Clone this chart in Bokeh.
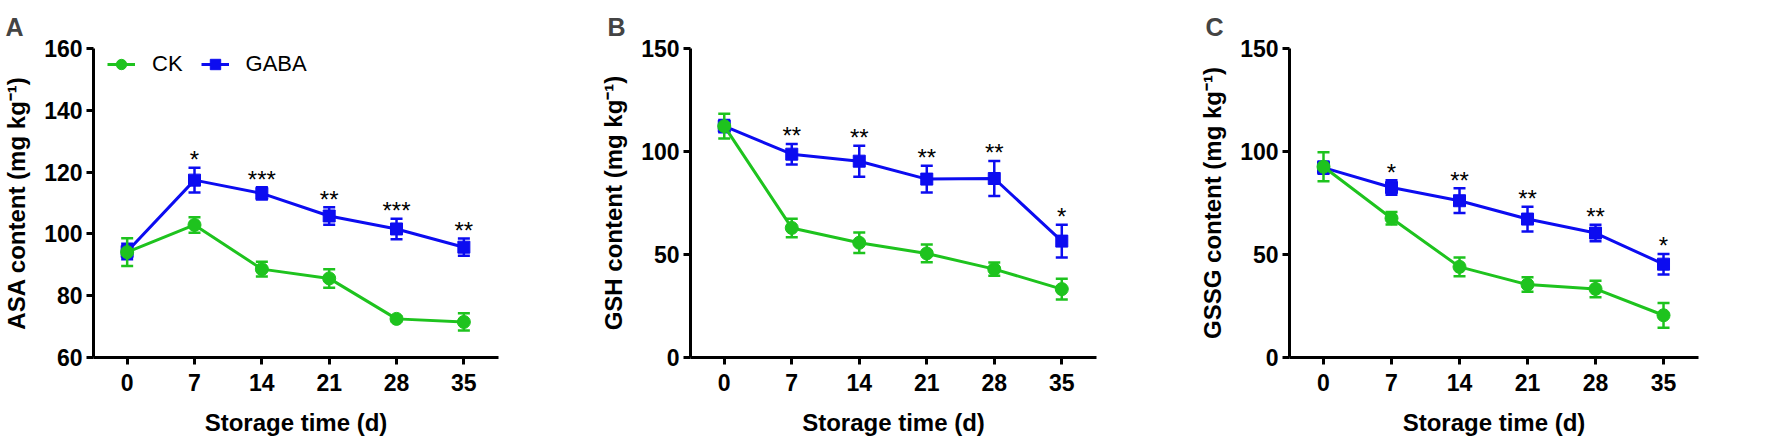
from bokeh.plotting import figure
from bokeh.layouts import row
from bokeh.models import FixedTicker, Range1d, Legend, LegendItem, ColumnDataSource
from bokeh.embed import file_html
from bokeh.resources import INLINE
from bokeh.core.properties import value

# ---------------- data ----------------
days = [0, 7, 14, 21, 28, 35]

asa_ck = [94.1, 102.9, 88.6, 85.6, 72.5, 71.5]
asa_ck_err = [4.5, 2.5, 2.4, 3.0, 0.8, 2.8]
asa_gaba = [94.3, 117.4, 113.1, 105.8, 101.6, 95.7]
asa_gaba_err = [2.5, 4.0, 2.0, 2.8, 3.3, 2.8]
asa_stars = ["", "*", "***", "**", "***", "**"]

gsh_ck = [112.3, 62.9, 55.7, 50.5, 42.9, 33.2]
gsh_ck_err = [6.0, 4.5, 5.0, 4.3, 3.2, 5.0]
gsh_gaba = [112.3, 98.7, 95.3, 86.6, 86.9, 56.5]
gsh_gaba_err = [3.0, 5.0, 7.5, 6.5, 8.5, 8.0]
gsh_stars = ["", "**", "**", "**", "**", "*"]

gssg_ck = [92.6, 67.6, 44.0, 35.4, 33.3, 20.5]
gssg_ck_err = [7.0, 3.0, 4.5, 3.5, 4.0, 6.0]
gssg_gaba = [92.2, 82.5, 76.1, 67.2, 60.4, 45.3]
gssg_gaba_err = [3.0, 3.5, 6.0, 6.0, 4.0, 5.0]
gssg_stars = ["", "*", "**", "**", "**", "*"]

series_names = ["CK", "GABA"]
x_ticks = [0, 7, 14, 21, 28, 35]

GREEN = "#1ec31e"
BLUE = "#0c0cf0"
FONT = "Liberation Sans"


def make_panel(letter, ylabel, ck, ck_err, gaba, gaba_err, stars, yr, yticks,
               bl, w, br, title_off, legend=False):
    p = figure(width=w, height=439,
               min_border_left=bl, min_border_right=br,
               min_border_top=48, min_border_bottom=82,
               x_range=Range1d(-3.5, 38.6), y_range=Range1d(*yr),
               output_backend="svg", toolbar_location=None)
    p.outline_line_color = None
    p.xgrid.visible = False
    p.ygrid.visible = False
    p.background_fill_color = "white"

    for ax, ticks in ((p.xaxis[0], x_ticks), (p.yaxis[0], yticks)):
        ax.ticker = FixedTicker(ticks=ticks)
        ax.axis_line_width = 3
        ax.axis_line_color = "black"
        ax.major_tick_line_width = 3
        ax.major_tick_line_color = "black"
        ax.major_tick_out = 7
        ax.major_tick_in = 0
        ax.minor_tick_line_color = None
        ax.major_label_text_font = FONT
        ax.major_label_text_font_style = "bold"
        ax.major_label_text_font_size = "23px"
        ax.major_label_text_color = "black"
        ax.axis_label_text_font = FONT
        ax.axis_label_text_font_style = "bold"
        ax.axis_label_text_font_size = "24px"
        ax.axis_label_text_color = "black"
    p.xaxis.axis_label = "Storage time (d)"
    p.yaxis.axis_label = ylabel
    p.xaxis.major_label_standoff = 9
    p.yaxis.major_label_standoff = 4
    p.xaxis.axis_label_standoff = 15
    p.yaxis.axis_label_standoff = 11

    p.title.text = letter
    p.title.text_font = FONT
    p.title.text_font_size = "25px"
    p.title.text_font_style = "bold"
    p.title.align = "left"
    p.title.offset = title_off
    p.title.standoff = 16

    src = ColumnDataSource(dict(
        x=days, ck=ck, gaba=gaba,
        ck_lo=[m - e for m, e in zip(ck, ck_err)],
        ck_hi=[m + e for m, e in zip(ck, ck_err)],
        g_lo=[m - e for m, e in zip(gaba, gaba_err)],
        g_hi=[m + e for m, e in zip(gaba, gaba_err)],
        stars=stars))

    # GABA (drawn first)
    p.segment(x0="x", y0="g_lo", x1="x", y1="g_hi", source=src,
              line_color=BLUE, line_width=2.5)
    p.scatter(x="x", y="g_lo", source=src, marker="dash", size=12,
              line_color=BLUE, line_width=2.5)
    p.scatter(x="x", y="g_hi", source=src, marker="dash", size=12,
              line_color=BLUE, line_width=2.5)
    gl = p.line(x="x", y="gaba", source=src, line_color=BLUE, line_width=3)
    gm = p.scatter(x="x", y="gaba", source=src, marker="square", size=12,
                   fill_color=BLUE, line_color=BLUE)

    # CK
    p.segment(x0="x", y0="ck_lo", x1="x", y1="ck_hi", source=src,
              line_color=GREEN, line_width=2.5)
    p.scatter(x="x", y="ck_lo", source=src, marker="dash", size=12,
              line_color=GREEN, line_width=2.5)
    p.scatter(x="x", y="ck_hi", source=src, marker="dash", size=12,
              line_color=GREEN, line_width=2.5)
    cl = p.line(x="x", y="ck", source=src, line_color=GREEN, line_width=3)
    cm = p.scatter(x="x", y="ck", source=src, marker="circle", size=13,
                   fill_color=GREEN, line_color=GREEN)

    # significance stars
    p.text(x="x", y="g_hi", text="stars", source=src,
           text_align="center", text_baseline="middle",
           text_font=value(FONT), text_font_size="24px", text_color="black",
           y_offset=-8)

    if legend:
        lg = Legend(items=[LegendItem(label=series_names[0], renderers=[cl, cm]),
                           LegendItem(label=series_names[1], renderers=[gl, gm])],
                    orientation="horizontal", location=(14, 280),
                    padding=0, margin=0, spacing=18,
                    glyph_width=28, glyph_height=26, label_standoff=17,
                    label_text_font=FONT, label_text_font_size="22px",
                    label_text_color="black",
                    border_line_color=None, background_fill_alpha=0)
        p.add_layout(lg, "center")
    return p


pA = make_panel("A", "ASA content (mg kg\u207b\u00b9)", asa_ck, asa_ck_err,
                asa_gaba, asa_gaba_err, asa_stars, (60, 160),
                [60, 80, 100, 120, 140, 160], 93, 590, 92, -88, legend=True)
pB = make_panel("B", "GSH content (mg kg\u207b\u00b9)", gsh_ck, gsh_ck_err,
                gsh_gaba, gsh_gaba_err, gsh_stars, (0, 150),
                [0, 50, 100, 150], 100, 590, 84, -83)
pC = make_panel("C", "GSSG content (mg kg\u207b\u00b9)", gssg_ck, gssg_ck_err,
                gssg_gaba, gssg_gaba_err, gssg_stars, (0, 150),
                [0, 50, 100, 150], 109, 592, 74, -84)

layout = row(pA, pB, pC)
open("out.html", "w").write(file_html(layout, INLINE))
